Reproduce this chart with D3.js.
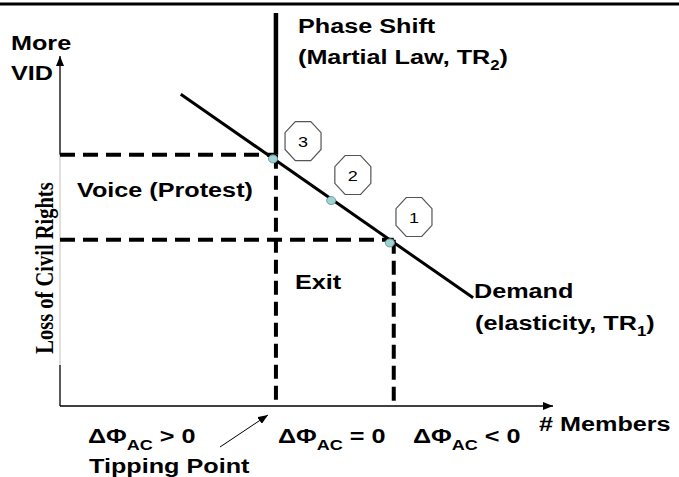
<!DOCTYPE html>
<html>
<head>
<meta charset="utf-8">
<script src="https://cdn.jsdelivr.net/npm/d3@7"></script>
<style>
html,body{margin:0;padding:0;background:#fff;}
svg{display:block;}
</style>
</head>
<body>
<svg id="chart" width="679" height="477"></svg>
<script>
// ---- data (conceptual units 0..100 on both axes) ----
const demandX = [24.5, 83.8];
const demandY = [89.1, 30.9];
const pointLabels = ["1", "2", "3"];
const pointX = [66.9, 55.0, 43.2];
const pointY = [46.6, 58.7, 70.6];
const badgeX = [71.8, 59.4, 49.3];
const badgeY = [54.0, 66.0, 75.7];
const tippingX = 43.8;      // phase shift / tipping point members
const exitX = 67.7;         // members at point 1
const voiceY = 71.8;        // VID level at tipping point
const exitY = 47.5;         // VID level at point 1
const phaseTopY = 112.3;    // top of phase shift line
const greyFromY = 11.7;     // lower end of grey part of VID axis
const axisMaxX = 100;
const axisMaxY = 100;

const svg = d3.select("#chart");
const x = d3.scaleLinear().domain([0, 100]).range([60, 553]);
const y = d3.scaleLinear().domain([0, 100]).range([406, 56]);
const SX = 1.2; // horizontal stretch of the original picture's lettering
const SANS = "'Liberation Sans', Arial, sans-serif";

const defs = svg.append("defs");
defs.append("marker").attr("id", "arr").attr("viewBox", "0 0 10 8")
  .attr("refX", 10).attr("refY", 4).attr("markerWidth", 10).attr("markerHeight", 8)
  .attr("markerUnits", "userSpaceOnUse").attr("orient", "auto")
  .append("path").attr("d", "M0,0 L10,4 L0,8 Z").attr("fill", "#000");

// top border line
svg.append("line").attr("x1", 0).attr("x2", 679).attr("y1", 4).attr("y2", 4)
  .attr("stroke", "#000").attr("stroke-width", 3);

// axes
svg.append("line").attr("x1", x(0)).attr("x2", x(0)).attr("y1", y(voiceY)).attr("y2", y(axisMaxY))
  .attr("stroke", "#000").attr("stroke-width", 1.3).attr("marker-end", "url(#arr)");
svg.append("line").attr("x1", x(0)).attr("x2", x(0)).attr("y1", y(greyFromY)).attr("y2", y(voiceY))
  .attr("stroke", "#c0c0c0").attr("stroke-width", 1);
svg.append("line").attr("x1", x(0)).attr("x2", x(0)).attr("y1", y(0)).attr("y2", y(greyFromY))
  .attr("stroke", "#000").attr("stroke-width", 1.3);
svg.append("line").attr("x1", x(0)).attr("x2", x(axisMaxX)).attr("y1", y(0)).attr("y2", y(0))
  .attr("stroke", "#000").attr("stroke-width", 1.3).attr("marker-end", "url(#arr)");

// dashed guide lines
function dash(x1, y1, x2, y2, da) {
  svg.append("line").attr("x1", x(x1)).attr("y1", y(y1)).attr("x2", x(x2)).attr("y2", y(y2))
    .attr("stroke", "#000").attr("stroke-width", 4).attr("stroke-dasharray", da);
}
dash(0, voiceY, tippingX, voiceY, "15,8");
dash(0, exitY, exitX, exitY, "15,8");
dash(tippingX, voiceY, tippingX, 0, "14,7");
dash(exitX, exitY, exitX, 0, "14,7");

// phase shift solid line
svg.append("line").attr("x1", x(tippingX)).attr("x2", x(tippingX))
  .attr("y1", y(phaseTopY)).attr("y2", y(voiceY))
  .attr("stroke", "#000").attr("stroke-width", 4.5);

// demand line
svg.append("path").datum(demandX.map((d, i) => [d, demandY[i]]))
  .attr("d", d3.line().x(d => x(d[0])).y(d => y(d[1])))
  .attr("stroke", "#000").attr("stroke-width", 3).attr("fill", "none");

// points on demand
svg.selectAll("ellipse.pt").data(pointX).enter().append("ellipse")
  .attr("cx", (d) => x(d)).attr("cy", (d, i) => y(pointY[i]))
  .attr("rx", 4.5).attr("ry", 4)
  .attr("fill", "#9fd3d3").attr("stroke", "#6f9f9f").attr("stroke-width", 1);

// octagon badges
const aw = 18, ah = 19.5, t = 0.43;
function octo(cx, cy) {
  const p = [[-aw*t, -ah], [aw*t, -ah], [aw, -ah*t], [aw, ah*t], [aw*t, ah], [-aw*t, ah], [-aw, ah*t], [-aw, -ah*t]];
  return "M" + p.map(q => (cx + q[0]) + "," + (cy + q[1])).join("L") + "Z";
}
const badges = svg.selectAll("g.badge").data(pointLabels).enter().append("g");
badges.append("path").attr("d", (d, i) => octo(x(badgeX[i]), y(badgeY[i])))
  .attr("fill", "#fff").attr("stroke", "#555").attr("stroke-width", 1.2);
badges.append("text")
  .attr("transform", (d, i) => `translate(${x(badgeX[i])},${y(badgeY[i]) + 5.5}) scale(${SX},1)`)
  .attr("text-anchor", "middle").attr("font-family", SANS).attr("font-size", 15)
  .text(d => d);

// labels
function label(px, py, parts, opts = {}) {
  const t = svg.append("text")
    .attr("transform", `translate(${px},${py}) scale(${SX},1)`)
    .attr("font-family", opts.family || SANS)
    .attr("font-weight", "bold")
    .attr("font-size", opts.size || 21)
    .attr("fill", "#000");
  if (opts.anchor) t.attr("text-anchor", opts.anchor);
  let back = 0;
  parts.forEach(p => {
    if (typeof p === "string") {
      const s = t.append("tspan").text(p);
      if (back) { s.attr("dy", -back); back = 0; }
    } else {
      t.append("tspan").attr("font-size", p.size || 15).attr("dy", p.dy).text(p.sub);
      back = p.dy;
    }
  });
  return t;
}
label(11, 50, ["More"]);
label(11, 80, ["VID"]);
label(298, 33, ["Phase Shift"]);
label(298, 64, ["(Martial Law, TR", {sub: "2", dy: 6, size: 14}, ")"]);
label(77, 197, ["Voice (Protest)"]);
label(295, 289, ["Exit"]);
label(474, 298, ["Demand"]);
label(475, 330, ["(elasticity, TR", {sub: "1", dy: 6, size: 14}, ")"]);
label(539, 431, ["# Members"]);
label(88, 443, ["\u0394\u03A6", {sub: "AC", dy: 7}, " > 0"]);
label(89, 473, ["Tipping Point"]);
label(278, 443, ["\u0394\u03A6", {sub: "AC", dy: 7}, " = 0"]);
label(413, 443, ["\u0394\u03A6", {sub: "AC", dy: 7}, " < 0"]);

// rotated y label
svg.append("text")
  .attr("transform", `translate(53,268) scale(${SX},1) rotate(-90)`)
  .attr("text-anchor", "middle")
  .attr("font-family", "'Liberation Serif', 'Times New Roman', serif")
  .attr("font-weight", "bold").attr("font-size", 20.5)
  .text("Loss of Civil Rights");

// tipping point arrow
svg.append("line").attr("x1", 220).attr("y1", 447).attr("x2", x(tippingX) - 8).attr("y2", y(0) + 9)
  .attr("stroke", "#000").attr("stroke-width", 1).attr("marker-end", "url(#arr)");
</script>
</body>
</html>
